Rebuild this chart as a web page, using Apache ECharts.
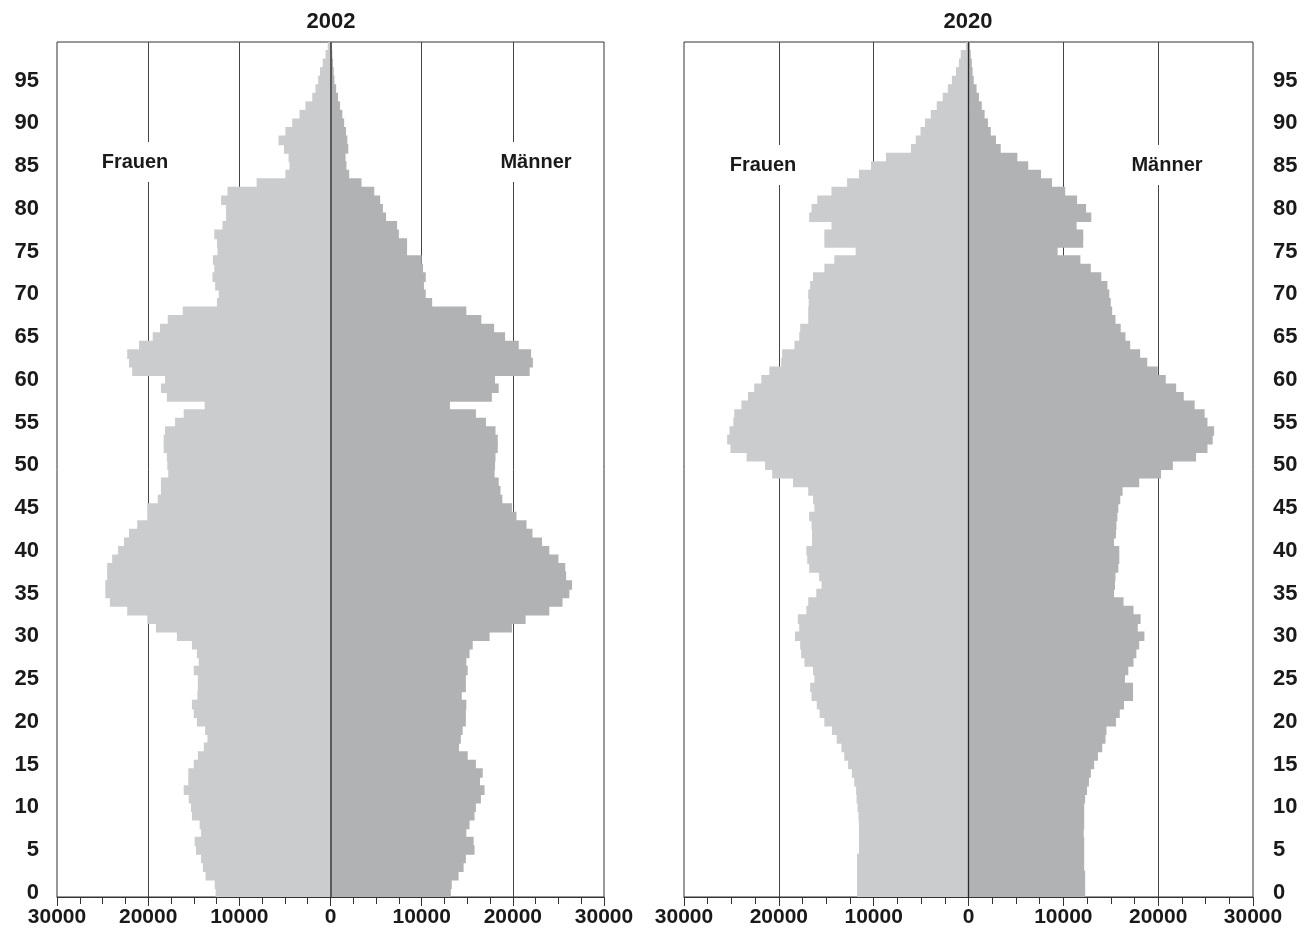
<!DOCTYPE html>
<html>
<head>
<meta charset="utf-8">
<script src="https://cdn.jsdelivr.net/npm/echarts@6/dist/echarts.min.js"></script>
<style>html,body{margin:0;padding:0;background:#fff}#c{width:1315px;height:945px}</style>
</head>
<body>
<div id="c"></div>
<script>
// Age categories 0..99
const ages = Array.from({length: 100}, (_, i) => String(i));
const xTicks = [-30000, -20000, -10000, 0, 10000, 20000, 30000];
const gridValues = [-20000, -10000, 10000, 20000];

// 2002 – Frauen (women), ages 0..99
const women2002 = [12600,12700,13700,14000,14200,14750,14900,14200,14350,15200,
  15300,15550,16100,15600,15600,15000,14550,13900,13500,13750,
  14650,15000,15200,14600,14550,14550,15000,14450,14650,15200,
  16850,19150,20100,22300,24200,24700,24700,24500,24500,23950,
  23300,22650,22100,21200,20100,20100,18950,18600,18600,17800,
  17900,17950,18300,18300,18150,17050,16100,13800,17950,18600,
  18150,21750,22100,22300,21000,19500,18700,17850,16200,12450,
  12250,12650,12950,12750,12900,12400,12450,12750,11850,11450,
  11450,12000,11300,8100,4950,4500,4600,5100,5700,4950,
  4200,3400,2750,2000,1650,1350,1150,850,550,300];
// 2002 – Männer (men)
const men2002 = [13200,13300,14050,14600,14850,15800,15700,14900,15250,15800,
  15950,16500,16900,16400,16700,15950,15050,14100,14300,14500,
  14850,14850,14900,14400,14850,14850,15050,14900,15250,15600,
  17450,19900,21400,24000,25450,26200,26500,25850,25750,25000,
  24000,23200,22150,21500,20400,19900,18850,18650,18450,18000,
  18050,18100,18350,18350,18100,17050,15950,13100,17700,18450,
  18050,21850,22200,22000,20650,19150,17950,16550,14900,11150,
  10450,10250,10450,10150,10000,8400,8400,7500,7300,6100,
  5750,5450,4800,3400,2050,1750,1650,1950,1850,1700,
  1500,1300,1050,820,620,430,350,270,200,120];
// 2020 – Frauen
const women2020 = [11750,11750,11750,11750,11750,11550,11550,11550,11550,11600,
  11700,11800,11850,12050,12300,12700,13100,13400,13900,14400,
  15200,15700,16000,16550,16700,16250,16400,17300,17650,17750,
  18300,17850,18000,17100,16900,16050,15500,15750,16800,17000,
  17100,16500,16500,16550,16800,16250,16400,16900,18500,20700,
  21450,23400,25100,25450,25200,24800,24700,23950,23250,22600,
  21850,21000,19750,19650,18350,17850,17750,16900,16900,16850,
  16900,16700,16400,15200,14150,11900,15200,15200,14450,16800,
  16550,15950,14450,12800,11550,10280,8700,6070,5560,5060,
  4590,3970,3350,2720,2180,1750,1320,1010,820,270];
// 2020 – Männer
const men2020 = [12300,12300,12300,12200,12200,12200,12200,12150,12200,12200,
  12200,12300,12500,12700,12900,13250,13650,14100,14450,14550,
  15550,15950,16400,17350,17350,16500,16850,17400,17700,18000,
  18550,17850,18150,17400,16350,15350,15450,15500,15800,15900,
  15900,15350,15550,15600,15700,15800,16000,16250,18000,20300,
  21550,24000,25200,25750,25900,25200,24900,23850,22700,21900,
  20800,19950,18850,18100,17050,16550,16050,15500,15150,15000,
  14850,14650,14000,12900,11800,9400,12100,12100,11400,12950,
  12400,11450,10200,8800,7650,6300,5150,3400,2900,2350,
  2050,1700,1400,1100,850,550,430,350,230,150];

const titles = ['2002', '2020'];
const labelF = 'Frauen', labelM = 'Männer';

const FONT = '"Liberation Sans", Arial, Helvetica, sans-serif';
const colW = '#cbccce', colM = '#b1b2b4';

function xAxisFor(gi) {
  return {
    type: 'value', gridIndex: gi, min: xTicks[0], max: xTicks[xTicks.length - 1], interval: 10000,
    z: 0,
    axisLine: {show: true, lineStyle: {color: '#333', width: 1}},
    axisTick: {show: true, length: 9, lineStyle: {color: '#333'}},
    minorTick: {show: true, splitNumber: 4, length: 7, lineStyle: {color: '#333'}},
    minorSplitLine: {show: false},
    splitLine: {show: false},
    axisLabel: {formatter: v => String(Math.abs(v)), color: '#1a1a1a', fontFamily: FONT,
      fontWeight: 'bold', fontSize: 21, margin: 10}
  };
}
function yAxisFor(gi, pos, margin) {
  return {
    type: 'category', gridIndex: gi, data: ages, position: pos, z: 0,
    axisLine: {show: false}, axisTick: {show: false}, splitLine: {show: false},
    axisLabel: {interval: (i) => i % 5 === 0, color: '#1a1a1a', fontFamily: FONT,
      fontWeight: 'bold', fontSize: 22, margin: margin}
  };
}
function lineSeries(gi, values, color, width, z) {
  return {
    type: 'line', xAxisIndex: gi, yAxisIndex: gi, data: [], z: z, silent: true,
    markLine: {silent: true, symbol: 'none', animation: false, label: {show: false}, z: z,
      lineStyle: {color: color, width: width, type: 'solid', opacity: 1},
      data: values.map(v => ({xAxis: v}))}
  };
}
function barSeries(gi, data, color, neg) {
  return {
    type: 'bar', xAxisIndex: gi, yAxisIndex: gi, silent: true, z: 5,
    data: neg ? data.map(v => -v) : data,
    barGap: '-100%', barWidth: 9.6,
    itemStyle: {color: color, opacity: 1},
    emphasis: {disabled: true}, animation: false
  };
}

const chart = echarts.init(document.getElementById('c'), null, {renderer: 'canvas'});
const txt = (x, y, t, size, bg) => ({
  type: 'text', x: x, y: y, z: 100,
  style: Object.assign({text: t, fill: '#1a1a1a', font: 'bold ' + size + 'px ' + FONT,
    textAlign: 'center', textVerticalAlign: 'middle'},
    bg ? {backgroundColor: '#fff', padding: [10, 4]} : {})
});
chart.setOption({
  backgroundColor: '#fff',
  animation: false,
  grid: [
    {left: 57, right: 711, top: 42, bottom: 48, show: true, borderColor: '#333', borderWidth: 1, backgroundColor: 'transparent'},
    {left: 684, right: 62, top: 42, bottom: 48, show: true, borderColor: '#333', borderWidth: 1, backgroundColor: 'transparent'}
  ],
  xAxis: [xAxisFor(0), xAxisFor(1)],
  yAxis: [yAxisFor(0, 'left', 18), yAxisFor(1, 'right', 20)],
  series: [
    lineSeries(0, gridValues, '#444', 1, 1),
    lineSeries(1, gridValues, '#444', 1, 1),
    barSeries(0, women2002, colW, true),
    barSeries(0, men2002, colM, false),
    barSeries(1, women2020, colW, true),
    barSeries(1, men2020, colM, false),
    lineSeries(0, [0], '#5a5a5a', 2, 20),
    lineSeries(1, [0], '#2a2a2a', 1.3, 20)
  ],
  graphic: [
    txt(331, 22, titles[0], 22, false),
    txt(968, 22, titles[1], 22, false),
    txt(135, 162, labelF, 20, true),
    txt(536, 162, labelM, 20, true),
    txt(763, 165, labelF, 20, true),
    txt(1167, 165, labelM, 20, true)
  ]
});
</script>
</body>
</html>
